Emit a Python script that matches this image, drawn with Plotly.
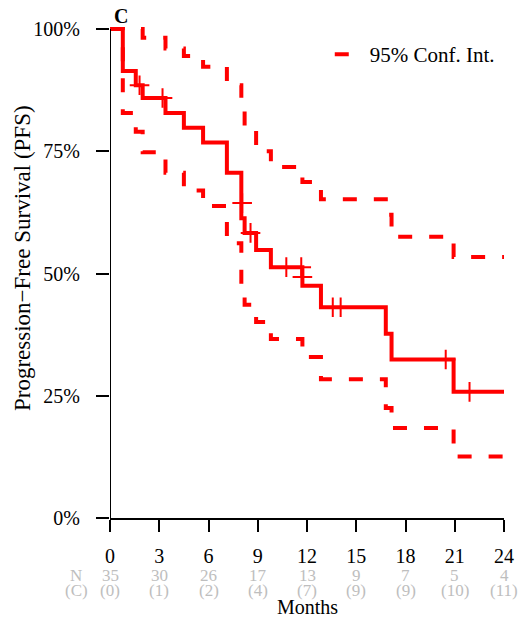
import plotly.graph_objects as go

# ---- data ----
months = [0, 0.78, 1.57, 1.99, 3.38, 4.5, 5.67, 7.12, 8.0, 8.2, 8.9, 9.8, 11.72, 12.85, 16.8, 17.15, 20.93]
pfs = [100, 91.4, 88.5, 85.9, 82.8, 79.8, 76.8, 70.6, 61.3, 58.3, 54.8, 51.3, 47.5, 43.1, 37.7, 32.4, 25.8]
upper_ci = [100, 100, 100, 98.2, 96.0, 94.5, 92.3, 88.5, 83.8, 79.8, 75.0, 71.8, 68.7, 65.2, 62.0, 57.5, 53.4]
lower_ci = [100, 82.8, 79.0, 74.8, 70.6, 67.0, 63.8, 56.2, 45.6, 43.6, 40.1, 36.6, 32.9, 28.4, 22.5, 18.4, 12.6]
censor_months = [1.8, 3.2, 8.05, 8.56, 10.74, 11.65, 11.72, 13.57, 14.05, 20.45, 21.9]
censor_pfs = [88.5, 85.9, 64.4, 58.3, 51.3, 51.3, 49.3, 43.1, 43.1, 32.4, 25.8]
end_month = 24
tick_months = [0, 3, 6, 9, 12, 15, 18, 21, 24]
n_at_risk = [35, 30, 26, 17, 13, 9, 7, 5, 4]
n_censored = [0, 1, 2, 4, 7, 9, 9, 10, 11]
y_ticks = [0, 25, 50, 75, 100]
y_tick_labels = ["0%", "25%", "50%", "75%", "100%"]

RED = "#FF0000"
FONT = "Liberation Serif, Times New Roman, serif"
GREY = "#BEBEBE"

def ext(xs, ys):
    return list(xs) + [end_month], list(ys) + [ys[-1]]

fig = go.Figure()
dash = "14px,17px"
xu, yu = ext(months, upper_ci)
fig.add_trace(go.Scatter(x=xu, y=yu, mode="lines", line=dict(color=RED, width=4, dash=dash, shape="hv"),
                         name="95% Conf. Int.", showlegend=True, hoverinfo="skip"))
xl, yl = ext(months, lower_ci)
fig.add_trace(go.Scatter(x=xl, y=yl, mode="lines", line=dict(color=RED, width=4, dash=dash, shape="hv"),
                         showlegend=False, hoverinfo="skip"))
xk, yk = ext(months, pfs)
fig.add_trace(go.Scatter(x=xk, y=yk, mode="lines", line=dict(color=RED, width=4, shape="hv"),
                         showlegend=False))
fig.add_trace(go.Scatter(x=censor_months, y=censor_pfs, mode="markers",
                         marker=dict(symbol="cross-thin", size=14, line=dict(color=RED, width=2)),
                         showlegend=False))

# y-axis line from 0% to 100%
fig.add_shape(type="line", xref="x", yref="y", x0=0, x1=0, y0=0, y1=100,
              line=dict(color="black", width=2), layer="above")

# number at risk / censored rows
gfont = dict(family=FONT, size=17, color=GREY)
for m, n, c in zip(tick_months, n_at_risk, n_censored):
    fig.add_annotation(x=m, xref="x", y=0, yref="paper", yshift=-57, text=str(n), showarrow=False,
                       font=gfont, xanchor="center", yanchor="middle")
    fig.add_annotation(x=m, xref="x", y=0, yref="paper", yshift=-72, text="(%d)" % c, showarrow=False,
                       font=gfont, xanchor="center", yanchor="middle")
fig.add_annotation(x=0, xref="x", xshift=-34, y=0, yref="paper", yshift=-57, text="N", showarrow=False,
                   font=gfont, xanchor="center", yanchor="middle")
fig.add_annotation(x=0, xref="x", xshift=-34, y=0, yref="paper", yshift=-72, text="(C)", showarrow=False,
                   font=gfont, xanchor="center", yanchor="middle")
fig.add_annotation(x=12, xref="x", y=0, yref="paper", yshift=-89, text="Months", showarrow=False,
                   font=dict(family=FONT, size=20, color="black"), xanchor="center", yanchor="middle")
fig.add_annotation(x=0, xref="paper", xshift=-88, y=0, yref="paper", yshift=260,
                   text="Progression\u2212Free Survival (PFS)", textangle=-90, showarrow=False,
                   font=dict(family=FONT, size=23, color="black"), xanchor="center", yanchor="middle")
fig.add_annotation(x=0, xref="x", xshift=11, y=1, yref="paper", yshift=9, text="<b>C</b>", showarrow=False,
                   font=dict(family=FONT, size=20, color="black"), xanchor="center", yanchor="middle")

fig.update_layout(
    width=526, height=617,
    margin=dict(l=110, r=18, t=25, b=99),
    paper_bgcolor="white", plot_bgcolor="white",
    font=dict(family=FONT, size=20, color="black"),
    showlegend=True,
    legend=dict(x=(332 - 110) / 398, y=1 - (34 - 25) / 493, xanchor="left", yanchor="top",
                font=dict(family=FONT, size=21, color="black"), bgcolor="rgba(0,0,0,0)"),
    xaxis=dict(range=[0, end_month], tickvals=tick_months, ticks="outside", ticklen=12, tickwidth=2,
               tickcolor="black", showline=True, linewidth=2, linecolor="black", showgrid=False,
               zeroline=False, ticklabelstandoff=7, tickfont=dict(family=FONT, size=20, color="black")),
    yaxis=dict(range=[0, 100.82], tickvals=y_ticks, ticktext=y_tick_labels, ticks="outside", ticklen=13,
               tickwidth=2, tickcolor="black", showline=False, showgrid=False, zeroline=False,
               ticklabelstandoff=12, tickfont=dict(family=FONT, size=20, color="black")),
)

fig.write_html("out.html")
